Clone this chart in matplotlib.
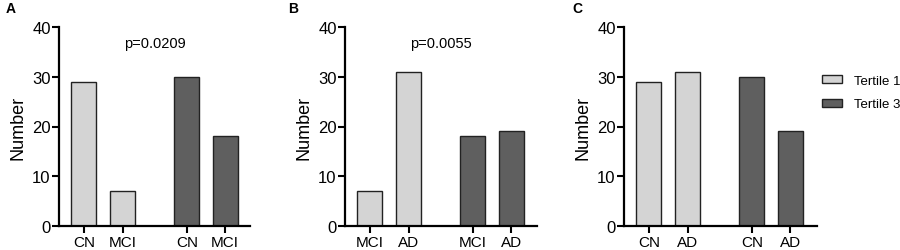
import matplotlib.pyplot as plt
from matplotlib.patches import Patch

plt.rcParams['font.family'] = ['Liberation Sans', 'DejaVu Sans']

# datos de cada panel
panel_letters = ['A', 'B', 'C']
panel_cats = [['CN', 'MCI', 'CN', 'MCI'],
              ['MCI', 'AD', 'MCI', 'AD'],
              ['CN', 'AD', 'CN', 'AD']]
tertile1 = [[29, 7], [7, 31], [29, 31]]
tertile3 = [[30, 18], [18, 19], [30, 19]]
p_values = ['p=0.0209', 'p=0.0055', None]
series_names = ['Tertile 1', 'Tertile 3']
yticks = [0, 10, 20, 30, 40]

c_light = '#d4d4d4'
c_dark = '#5f5f5f'

fig = plt.figure(figsize=(9, 2.51), dpi=100)
W, H = 900, 251

# posiciones en pixeles (izq, ancho) de cada eje
ejes_px = [(59, 191), (345, 192), (624, 193)]
letras_px = [(6, 9), (288, 9), (572, 9)]
pos = [0, 1, 2.64, 3.62]

for i in range(3):
    left, width = ejes_px[i]
    ax = fig.add_axes([left / W, 24 / H, width / W, 199 / H])
    vals = tertile1[i] + tertile3[i]
    colores = [c_light, c_light, c_dark, c_dark]
    ax.bar(pos, vals, width=0.64, color=colores, edgecolor='#222222', linewidth=1.0)
    ax.set_xlim(-0.64, -0.64 + width / 39)
    ax.set_ylim(0, 40)
    ax.set_yticks(yticks)
    ax.set_xticks(pos)
    ax.set_xticklabels(panel_cats[i], fontsize=11)
    ax.tick_params(axis='y', labelsize=12, width=1.5, length=5, pad=1)
    ax.tick_params(axis='x', width=1.5, length=5, pad=1.5)
    for s in ['top', 'right']:
        ax.spines[s].set_visible(False)
    for s in ['left', 'bottom']:
        ax.spines[s].set_linewidth(1.6)
    ax.set_ylabel('Number', fontsize=13, labelpad=4)
    if p_values[i]:
        ax.text(0.5, 0.92, p_values[i], transform=ax.transAxes, ha='center',
                va='center', fontsize=10.5)
    fig.text(letras_px[i][0] / W, 1 - letras_px[i][1] / H, panel_letters[i],
             fontsize=10, fontweight='bold', va='center', ha='left')

handles = [Patch(facecolor=c_light, edgecolor='#222222', label=series_names[0]),
           Patch(facecolor=c_dark, edgecolor='#222222', label=series_names[1])]
fig.legend(handles=handles, loc='upper left', bbox_to_anchor=(822 / W, 1 - 76 / H),
           frameon=False, fontsize=9.5, handlelength=1.5, handleheight=0.55,
           labelspacing=0.85, handletextpad=0.9, borderpad=0, borderaxespad=0)

fig.savefig('out.png', dpi=100)
